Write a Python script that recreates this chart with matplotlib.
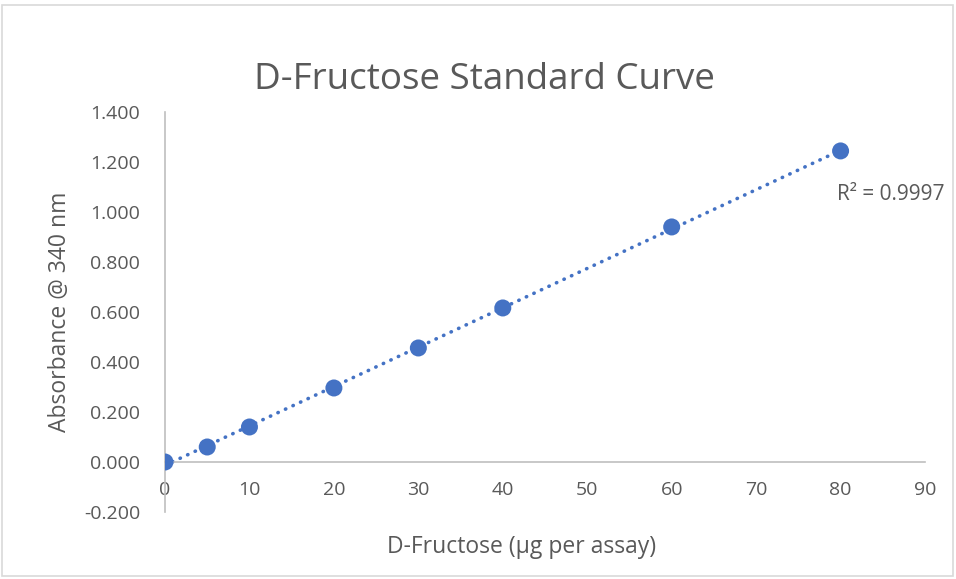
import numpy as np
import matplotlib.pyplot as plt
from matplotlib.patches import Rectangle

# Dados da curva padrão
fructose_ug = [0, 5, 10, 20, 30, 40, 60, 80]
absorbance = [0.000, 0.060, 0.140, 0.296, 0.456, 0.616, 0.940, 1.244]
x_ticks = [0, 10, 20, 30, 40, 50, 60, 70, 80, 90]
y_ticks = [-0.2, 0.0, 0.2, 0.4, 0.6, 0.8, 1.0, 1.2, 1.4]
r2_label = 'R² = 0.9997'

blue = '#4472C4'
gray = '#595959'
plt.rcParams['font.family'] = ['Open Sans', 'DejaVu Sans']

fig = plt.figure(figsize=(9.56, 5.79), dpi=100)
fig.patches.append(Rectangle((0.002, 0.006), 0.995, 0.986, transform=fig.transFigure,
                             fill=False, edgecolor='#D9D9D9', linewidth=1.2))
ax = fig.add_axes([0.1726, 0.1157, 0.795, 0.691])

# Linha de tendência linear
coef = np.polyfit(fructose_ug, absorbance, 1)
xs = np.array([min(fructose_ug), max(fructose_ug)])
ax.plot(xs, np.polyval(coef, xs), color=blue, linewidth=2.6,
        linestyle=(0, (0.1, 2.2)), dash_capstyle='round', zorder=2)
ax.scatter(fructose_ug, absorbance, s=150, color=blue, edgecolors='none', zorder=3)

ax.text(79.6, 1.068, r2_label, fontsize=15, color=gray, va='center', ha='left')

ax.set_xlim(0, 90)
ax.set_ylim(-0.2, 1.4)
ax.set_xticks(x_ticks)
ax.set_yticks(y_ticks)
ax.set_yticklabels([f'{v:.3f}' for v in y_ticks])

for s in ['top', 'right']:
    ax.spines[s].set_visible(False)
ax.spines['bottom'].set_position(('data', 0))
ax.spines['left'].set_position(('data', 0))
for s in ['bottom', 'left']:
    ax.spines[s].set_color('#BFBFBF')
    ax.spines[s].set_linewidth(1.2)
ax.tick_params(axis='both', length=0, labelsize=14, colors=gray)
ax.tick_params(axis='x', pad=14)
ax.tick_params(axis='y', pad=18)

fig.text(0.507, 0.862, 'D-Fructose Standard Curve', fontsize=26.5, color=gray,
         ha='center', va='center')
fig.text(0.0628, 0.461, 'Absorbance @ 340 nm', rotation=90, fontsize=16.5,
         color=gray, ha='center', va='center')
fig.text(0.546, 0.055, 'D-Fructose (µg per assay)', fontsize=16.5,
         color=gray, ha='center', va='center')

plt.savefig('out.png', dpi=100)
